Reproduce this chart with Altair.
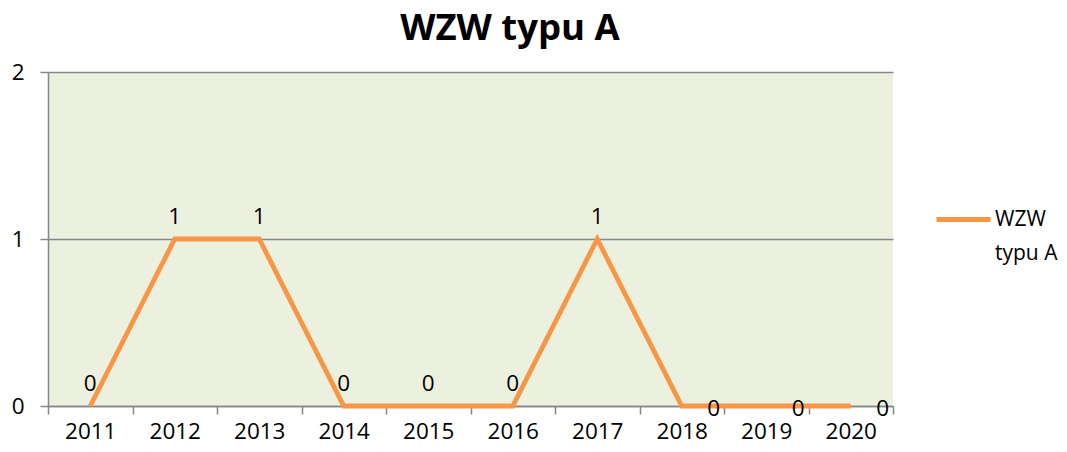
import altair as alt
import pandas as pd

# ---- data ----
years = [2011, 2012, 2013, 2014, 2015, 2016, 2017, 2018, 2019, 2020]
values = [0, 1, 1, 0, 0, 0, 1, 0, 0, 0]
series_name = "WZW typu A"
y_ticks = [0, 1, 2]
title_text = "WZW typu A"

df = pd.DataFrame({"rok": years, "wartosc": values, "seria": [series_name] * len(years)})

FONT = "Open Sans"
FS = 22.5
GRAY = "#868686"
ORANGE = "#F79646"
W, H = 845, 334
band_px = W / len(years)

x_ticks = [y - 0.5 for y in years] + [years[-1] + 0.5]
x_scale = alt.Scale(domain=[years[0] - 0.5, years[-1] + 0.5], nice=False, zero=False)
y_scale = alt.Scale(domain=[y_ticks[0], y_ticks[-1]], nice=False)

x_axis = alt.Axis(
    values=x_ticks,
    labelExpr=f"datum.value > {years[-1]} ? '' : format(datum.value + 0.5, 'd')",
    labelOffset=band_px / 2,
    labelFlush=False,
    labelOverlap=False,
    grid=False,
    title=None,
    tickSize=8,
    tickColor=GRAY,
    tickWidth=1.5,
    domainColor=GRAY,
    domainWidth=1.5,
    labelFont=FONT,
    labelFontSize=FS,
    labelColor="black",
    labelPadding=6,
)
y_axis = alt.Axis(
    tickCount=len(y_ticks) - 1,
    format="d",
    grid=True,
    gridColor=GRAY,
    gridWidth=1.5,
    title=None,
    tickSize=8,
    tickColor=GRAY,
    tickWidth=1.5,
    domainColor=GRAY,
    domainWidth=1.5,
    labelFont=FONT,
    labelFontSize=FS,
    labelColor="black",
    labelPadding=16,
    labelOverlap=False,
    labelFlush=False,
)

base = alt.Chart(df).encode(
    x=alt.X("rok:Q", scale=x_scale, axis=x_axis),
    y=alt.Y("wartosc:Q", scale=y_scale, axis=y_axis),
)

line = base.mark_line(strokeWidth=4.8, strokeJoin="miter").encode(
    color=alt.Color(
        "seria:N",
        scale=alt.Scale(range=[ORANGE]),
        legend=alt.Legend(
            title=None,
            orient="none",
            legendX=886,
            legendY=118,
            symbolType="stroke",
            symbolSize=54 * 54,
            symbolStrokeWidth=4.8,
            labelExpr="['WZW', 'typu A']",
            labelFont=FONT,
            labelFontSize=21,
            labelColor="black",
            labelOffset=2,
            labelBaseline="middle",
            labelLimit=200,
            padding=0,
        ),
    )
)

labels_above = base.transform_filter(f"datum.rok <= {years[6]}").mark_text(
    dy=-22, font=FONT, fontSize=FS, color="black"
).encode(text=alt.Text("wartosc:Q", format="d"))

labels_right = base.transform_filter(f"datum.rok > {years[6]}").mark_text(
    dx=32, dy=3, font=FONT, fontSize=FS, color="black"
).encode(text=alt.Text("wartosc:Q", format="d"))

chart = (
    alt.layer(line, labels_above, labels_right)
    .properties(
        width=W,
        height=H,
        title=alt.Title(
            title_text,
            font=FONT,
            fontSize=36.5,
            fontWeight="bold",
            color="black",
            anchor="start",
            dx=389,
            offset=14,
        ),
        autosize=alt.AutoSizeParams(type="none"),
        padding={"left": 40, "top": 64, "right": 166, "bottom": 38},
    )
    .configure(style={"guide-label": {"lineHeight": 34}})
    .configure_view(fill="#EBF1DE", stroke=None)
)

chart.save("out.html", embed_options={"renderer": "svg", "actions": False})
